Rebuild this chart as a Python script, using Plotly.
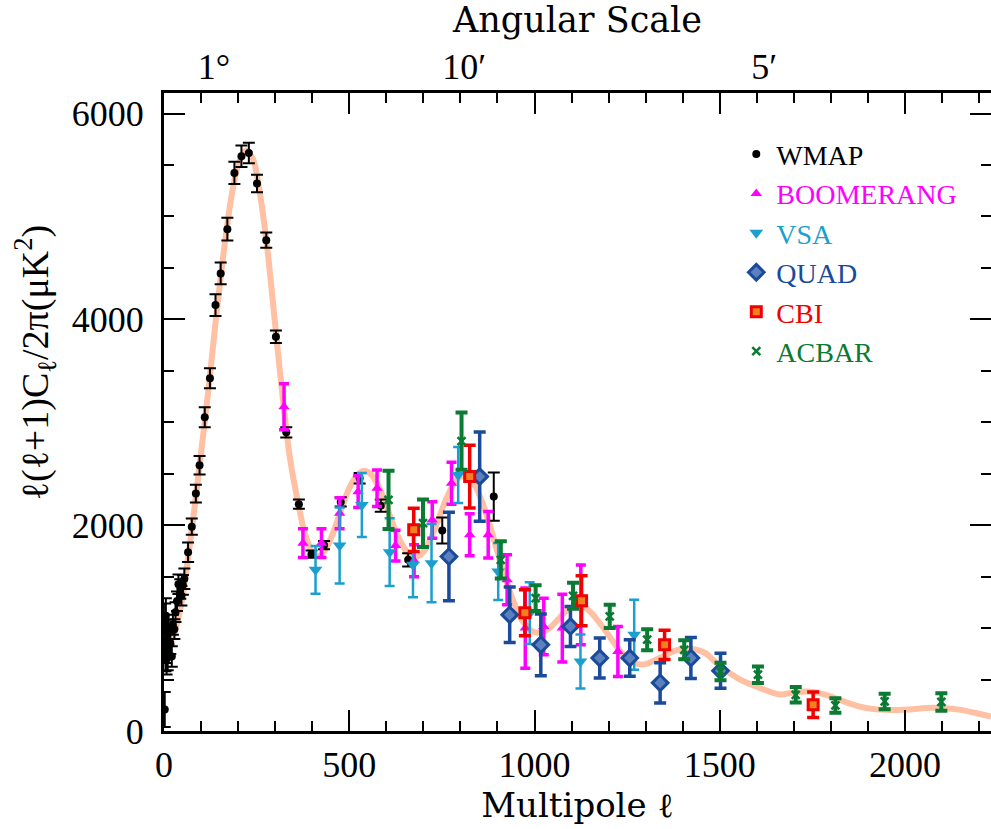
import plotly.graph_objects as go

# ---------------- data ----------------
MODEL_L = [2, 10, 20, 30, 40, 50, 60, 80, 100, 120, 140, 160, 180, 200, 220, 240, 260, 280, 300, 320,
           340, 360, 380, 400, 420, 440, 460, 480, 500, 520, 540, 560, 580, 600, 620, 640, 660, 680, 700,
           720, 740, 760, 780, 800, 820, 840, 860, 880, 900, 920, 940, 960, 980, 1000, 1020, 1040, 1060,
           1080, 1100, 1120, 1140, 1160, 1180, 1200, 1220, 1240, 1260, 1280, 1300, 1320, 1350, 1380, 1420,
           1460, 1500, 1550, 1600, 1660, 1700, 1730, 1760, 1800, 1840, 1870, 1910, 1960, 2010, 2070, 2110,
           2150, 2190, 2232]
MODEL_V = [1000, 820, 880, 980, 1120, 1300, 1550, 2100, 2700, 3320, 4000, 4620, 5150, 5500, 5640, 5560,
           5200, 4650, 3950, 3250, 2650, 2250, 1920, 1740, 1700, 1790, 1960, 2170, 2360, 2480, 2530, 2490,
           2370, 2190, 1990, 1830, 1720, 1690, 1740, 1870, 2050, 2240, 2390, 2470, 2470, 2380, 2210, 1990,
           1740, 1500, 1290, 1120, 1010, 960, 960, 1000, 1070, 1150, 1200, 1215, 1190, 1120, 1030, 930,
           830, 740, 680, 650, 650, 680, 730, 780, 800, 760, 630, 510, 430, 355, 375, 385, 375, 335, 280,
           245, 215, 205, 210, 225, 220, 205, 175, 140]

WMAP_L = [2, 3, 4, 5, 6, 7, 8, 10, 12, 14, 17, 21, 24, 28, 31, 35, 39, 44, 47, 51, 55, 65, 75, 86, 96,
          110, 124, 139, 153, 171, 190, 209, 229, 251, 276, 302, 330, 364, 398, 432, 477, 528, 585, 659,
          751, 890]
WMAP_V = [210, 1040, 760, 1120, 820, 700, 880, 720, 960, 840, 854, 724, 1032, 990, 1155, 1260, 1427,
          1380, 1314, 1420, 1479, 1738, 1986, 2307, 2582, 3049, 3427, 4139, 4447, 4877, 5423, 5585, 5617,
          5320, 4770, 3831, 2903, 2204, 1718, 1806, 2226, 2456, 2190, 1663, 1948, 2278]
WMAP_E = [170, 200, 180, 170, 160, 150, 140, 130, 120, 110, 105, 100, 97, 95, 95, 95, 95, 95, 95, 95,
          100, 95, 80, 86, 90, 97, 97, 105, 106, 110, 108, 105, 100, 85, 75, 60, 50, 45, 35, 40, 45, 50,
          60, 65, 126, 235]

BOOM_L = [324, 375, 425, 474, 524, 575, 625, 675, 724, 776, 825, 875, 926, 975, 1025, 1075, 1125, 1225]
BOOM_V = [3151, 1825, 1825, 2116, 2326, 2359, 1802, 1655, 2051, 2408, 1906, 1906, 1469, 1000, 1016,
          1000, 1226, 773]
BOOM_E = [223, 140, 140, 150, 155, 178, 150, 155, 178, 204, 204, 226, 243, 390, 275, 330, 388, 243]

VSA_L = [409, 474, 534, 609, 672, 722, 794, 902, 987, 1124, 1269]
VSA_V = [1566, 1802, 2197, 1738, 1615, 1631, 2488, 1550, 1145, 676, 935]
VSA_E = [233, 369, 311, 330, 316, 380, 272, 277, 300, 262, 340]

QUAD_L = [769, 852, 933, 1017, 1097, 1176, 1257, 1339, 1422, 1502]
QUAD_V = [1695, 2472, 1129, 838, 1016, 709, 709, 468, 709, 585]
QUAD_E = [430, 434, 270, 300, 194, 194, 178, 195, 200, 170]

CBI_L = [674, 825, 974, 1127, 1351, 1752]
CBI_V = [1955, 2472, 1149, 1265, 838, 255]
CBI_E = [210, 304, 223, 243, 142, 125]

ACBAR_L = [606, 699, 803, 909, 1003, 1104, 1203, 1304, 1404, 1502, 1603, 1705, 1812, 1945, 2098]
ACBAR_V = [2245, 2019, 2818, 1663, 1291, 1314, 1113, 887, 789, 579, 547, 352, 248, 287, 282]
ACBAR_E = [283, 231, 278, 181, 126, 126, 113, 102, 92, 85, 80, 76, 70, 75, 85]

X_TICKS = [0, 500, 1000, 1500, 2000]
Y_TICKS = [0, 2000, 4000, 6000]
ANGLE_ELL = [135, 810, 1620]
ANGLE_LABELS = ["1°", "10′", "5′"]

FONT = "Liberation Serif"
TITLE_FONT = "DejaVu Serif"
X_RANGE = [0, 2232]
Y_RANGE = [0, 6200]

fig = go.Figure()

fig.add_trace(go.Scatter(x=MODEL_L, y=MODEL_V, mode="lines",
                         line=dict(color="#FFC0A3", width=6, shape="spline", smoothing=0.8),
                         showlegend=False, hoverinfo="skip"))


def add_series(name, color, L, V, E, symbol, size, ethick, ewidth, fill=None, mline=0, mlinecolor=None):
    fig.add_trace(go.Scatter(
        x=L, y=V, mode="markers",
        name=f'<span style="color:{color}">{name}</span>',
        legendgroup=name,
        marker=dict(symbol=symbol, size=size, color=fill or color,
                    line=dict(width=mline, color=mlinecolor or color)),
        error_y=dict(type="data", array=E, visible=True, color=color, thickness=ethick, width=ewidth),
    ))


add_series("WMAP", "#000000", WMAP_L, WMAP_V, WMAP_E, "circle", 8, 2, 6)
add_series("BOOMERANG", "#FF00FF", BOOM_L, BOOM_V, BOOM_E, "triangle-up", 10, 3.5, 5)
add_series("VSA", "#1A9FCF", VSA_L, VSA_V, VSA_E, "triangle-down", 12, 2.5, 5)
add_series("QUAD", "#1A4A9A", QUAD_L, QUAD_V, QUAD_E, "diamond", 12, 3.5, 6, fill="#5A80BE", mline=3, mlinecolor="#1A4A9A")
add_series("CBI", "#F00000", CBI_L, CBI_V, CBI_E, "square", 10, 3.5, 6, fill="#F08020", mline=3, mlinecolor="#F00000")
add_series("ACBAR", "#0B7A33", ACBAR_L, ACBAR_V, ACBAR_E, "x-thin-open", 8, 4, 6, mline=2.5, mlinecolor="#0B7A33")

# dummy trace to anchor the secondary (top / right) axes
fig.add_trace(go.Scatter(x=[None], y=[None], xaxis="x2", yaxis="y2", showlegend=False, hoverinfo="skip"))

tickfont = dict(family=FONT, size=36, color="black")

fig.update_layout(
    width=991, height=829,
    margin=dict(l=164, r=0, t=93, b=98, autoexpand=False),
    paper_bgcolor="white", plot_bgcolor="white",
    font=dict(family=FONT, color="black"),
    showlegend=True,
    legend=dict(x=0.692, y=0.943, xanchor="left", yanchor="top", bgcolor="rgba(0,0,0,0)",
                font=dict(family=FONT, size=28), tracegroupgap=0, itemwidth=30),
    xaxis=dict(range=X_RANGE, tickmode="array", tickvals=X_TICKS, ticks="inside", ticklen=21, tickwidth=2,
               tickcolor="black", minor=dict(dtick=100, tick0=0, ticks="inside", ticklen=10, tickwidth=2, tickcolor="black"),
               showline=True, linewidth=3, linecolor="black", mirror="ticks", showgrid=False, zeroline=False,
               tickfont=tickfont, ticklabelstandoff=0, automargin=False,
               title=dict(text="Multipole ℓ", font=dict(family=TITLE_FONT, size=34), standoff=6)),
    yaxis=dict(range=Y_RANGE, tickmode="array", tickvals=Y_TICKS, ticks="inside", ticklen=21, tickwidth=2,
               tickcolor="black", minor=dict(dtick=500, tick0=0, ticks="inside", ticklen=10, tickwidth=2, tickcolor="black"),
               showline=True, linewidth=3, linecolor="black", showgrid=False, zeroline=False,
               tickfont=tickfont, ticklabelstandoff=10, automargin=False),
    xaxis2=dict(overlaying="x", side="top", anchor="y", range=X_RANGE, tickmode="array", tickvals=ANGLE_ELL,
                ticktext=ANGLE_LABELS, ticks="", showline=False, showgrid=False, zeroline=False,
                tickfont=tickfont, ticklabelstandoff=6, automargin=False,
                title=dict(text="Angular Scale", font=dict(family=TITLE_FONT, size=35), standoff=6)),
    yaxis2=dict(overlaying="y", side="right", anchor="x", range=Y_RANGE, tickmode="array", tickvals=Y_TICKS,
                ticks="inside", ticklen=21, tickwidth=2, tickcolor="black",
                minor=dict(dtick=500, tick0=0, ticks="inside", ticklen=10, tickwidth=2, tickcolor="black"),
                showticklabels=False, showline=False, showgrid=False, zeroline=False, automargin=False),
    annotations=[dict(text="ℓ(ℓ+1)C<sub>ℓ</sub>/2π(μK<sup>2</sup>)", xref="paper", yref="paper",
                      x=-0.156, y=0.578, xanchor="center", yanchor="middle", textangle=-90, showarrow=False,
                      font=dict(family=FONT, size=38, color="black"))],
)

fig.write_html("out.html", config={"displayModeBar": False},
               post_script="document.body.style.margin='0';document.body.style.overflow='hidden';")
